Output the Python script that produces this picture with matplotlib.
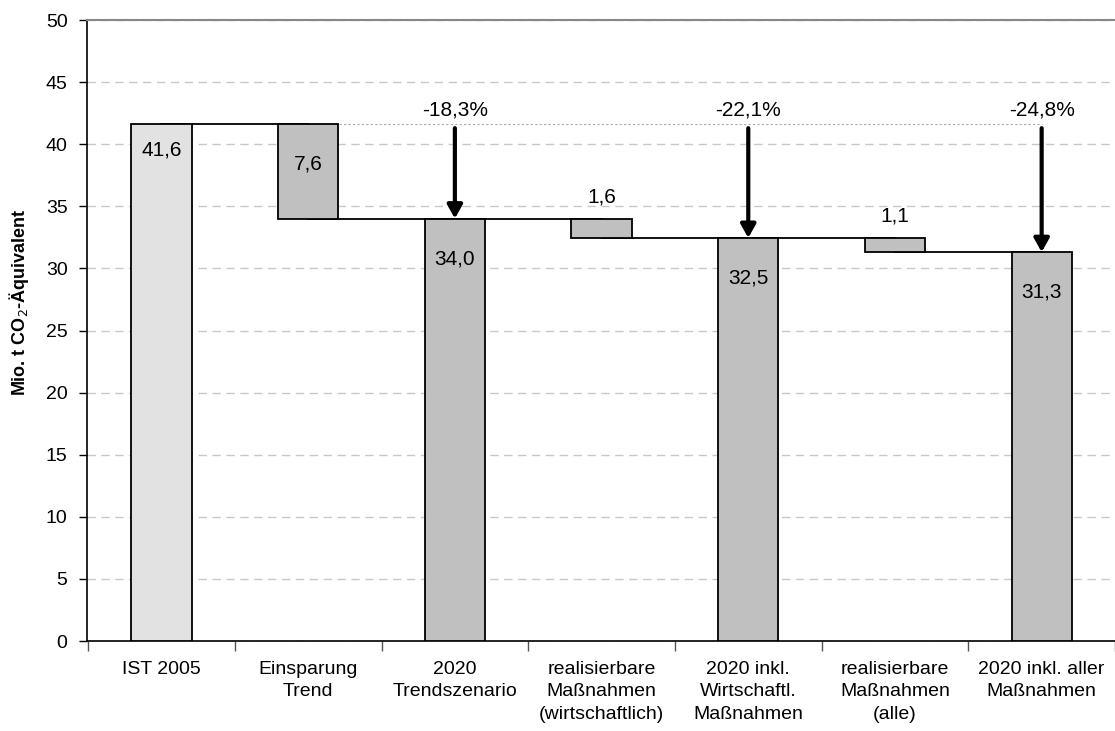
import matplotlib.pyplot as plt
import matplotlib

matplotlib.rcParams['font.family'] = ['Liberation Sans', 'DejaVu Sans']

# Daten: Ausgangswert, Einsparungen und Zwischenstände
categories = ['IST 2005', 'Einsparung\nTrend', '2020\nTrendszenario',
              'realisierbare\nMaßnahmen\n(wirtschaftlich)', '2020 inkl.\nWirtschaftl.\nMaßnahmen',
              'realisierbare\nMaßnahmen\n(alle)', '2020 inkl. aller\nMaßnahmen']
ist_2005 = 41.62
savings = [7.60, 1.56, 1.14]          # Einsparung Trend, wirtschaftl., alle
reduction_pct = [-18.3, -22.1, -24.8]  # bezogen auf IST 2005

COLOR_IST = '#e2e2e2'
COLOR_BAR = '#c0c0c0'


def fmt(v):
    return f'{v:.1f}'.replace('.', ',')


# Laufende Summe: Total-Balken und schwebende Einsparungsbalken
totals = [ist_2005]
for s in savings:
    totals.append(totals[-1] - s)

fig = plt.figure(figsize=(11.15, 7.31), dpi=100)
ax = fig.add_axes([0.078, 0.123, 0.922, 0.8495])

width = 0.41
levels = []  # Niveau nach jeder Kategorie
for i in range(len(categories)):
    if i % 2 == 0:
        t = totals[i // 2]
        color = COLOR_IST if i == 0 else COLOR_BAR
        ax.bar(i, t, width=width, color=color, edgecolor='black', linewidth=1.3, zorder=3)
        off = -12 if i == 0 else -22
        ax.annotate(fmt(t), xy=(i, t), xytext=(0, off), textcoords='offset points',
                    ha='center', va='top', fontsize=15, zorder=5)
        levels.append(t)
    else:
        k = i // 2
        top = totals[k]
        s = savings[k]
        ax.bar(i, s, bottom=top - s, width=width, color=COLOR_BAR, edgecolor='black',
               linewidth=1.3, zorder=3)
        if s > 3:
            ax.annotate(fmt(s), xy=(i, top), xytext=(0, -22), textcoords='offset points',
                        ha='center', va='top', fontsize=15, zorder=5)
        else:
            ax.annotate(fmt(s), xy=(i, top), xytext=(0, 9), textcoords='offset points',
                        ha='center', va='bottom', fontsize=15, zorder=5)
        levels.append(top - s)

# Verbindungslinien zwischen den Balken
for i in range(len(categories) - 1):
    ax.plot([i, i + 1], [levels[i], levels[i]], color='black', linewidth=1.3, zorder=2)

# Referenzlinie auf Höhe IST 2005
ax.plot([1, 6], [ist_2005, ist_2005], color='#aaaaaa', linestyle=(0, (2, 2)),
        linewidth=0.8, zorder=2)

# Pfeile mit prozentualer Minderung
for k, pct in enumerate(reduction_pct):
    x = 2 * (k + 1)
    ax.annotate('', xy=(x, totals[k + 1]), xytext=(x, 41.3),
                arrowprops=dict(arrowstyle='-|>,head_length=0.5,head_width=0.28',
                                color='black', lw=3, mutation_scale=16,
                                shrinkA=0, shrinkB=0),
                zorder=6)
    ax.text(x, 42.75, f'{pct:.1f}%'.replace('.', ','), ha='center', va='center', fontsize=15)

# Achsen
ax.set_ylim(0, 50)
ax.set_xlim(-0.508, 6.46)
ax.set_yticks(range(0, 51, 5))
ax.tick_params(axis='y', labelsize=14, direction='out', length=6, width=1, pad=8)
ax.yaxis.grid(True, color='#c8c8c8', linestyle=(0, (6, 4)), linewidth=1)
ax.set_axisbelow(True)

ax.set_xticks([i - 0.5 for i in range(len(categories) + 1)])
ax.set_xticklabels([])
ax.tick_params(axis='x', which='major', direction='out', length=7, width=1, color='#555555')
ax.set_xticks(range(len(categories)), minor=True)
ax.set_xticklabels(categories, minor=True, fontsize=14)
ax.tick_params(axis='x', which='minor', length=0, pad=14)
for lbl in ax.get_xticklabels(minor=True):
    lbl.set_linespacing(1.45)

ax.spines['right'].set_visible(False)
ax.spines['top'].set_color('#888888')
ax.spines['top'].set_linewidth(1.5)
ax.spines['left'].set_linewidth(1.2)
ax.spines['bottom'].set_linewidth(1.2)

ax.set_ylabel('Mio. t CO$_2$-Äquivalent', fontsize=13, fontweight='bold')
ax.yaxis.set_label_coords(-0.054, 0.546)

fig.savefig('out.png', dpi=100, facecolor='white')
